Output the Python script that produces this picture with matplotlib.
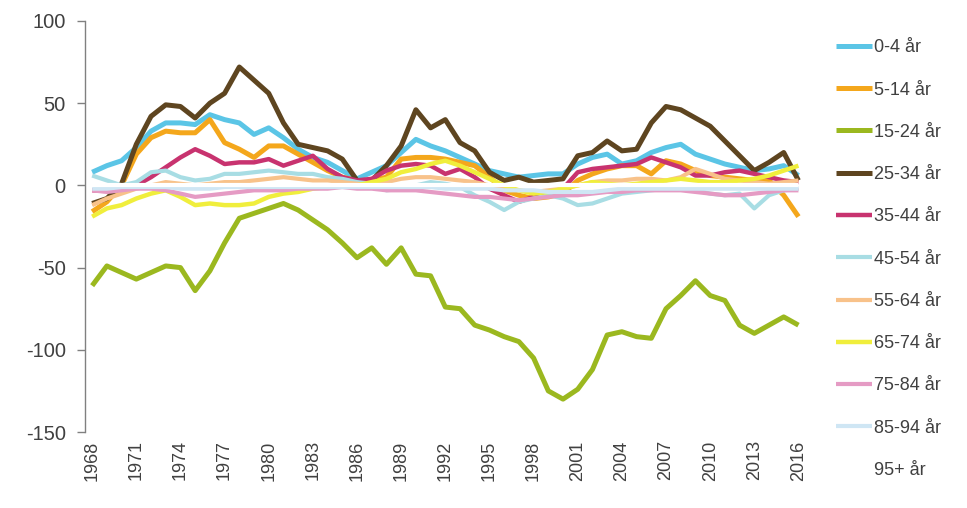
import matplotlib
matplotlib.use("Agg")
import matplotlib.pyplot as plt

plt.rcParams["font.family"] = ["Liberation Sans", "DejaVu Sans"]
plt.rcParams["axes.unicode_minus"] = False

years = list(range(1968, 2017))

# Nettoflytning per aldersgruppe
aar_0_4 = [8, 12, 15, 23, 33, 38, 38, 37, 43, 40, 38, 31, 35, 29, 22, 17, 14, 9, 4, 8,
           12, 20, 28, 24, 21, 17, 13, 9, 7, 5, 6, 7, 7, 13, 17, 19, 13, 15, 20, 23,
           25, 19, 16, 13, 11, 9, 10, 12, 6]
aar_5_14 = [-16, -10, 0, 19, 29, 33, 32, 32, 40, 26, 22, 17, 24, 24, 19, 14, 9, 5, 3, 3,
            5, 16, 17, 17, 16, 14, 12, 5, -3, -6, -8, -7, -5, 3, 7, 10, 12, 12, 7, 15,
            13, 9, 6, 5, 4, 3, 3, -6, -19]
aar_15_24 = [-61, -49, -53, -57, -53, -49, -50, -64, -52, -35, -20, -17, -14, -11, -15, -21,
             -27, -35, -44, -38, -48, -38, -54, -55, -74, -75, -85, -88, -92, -95, -105,
             -125, -130, -124, -112, -91, -89, -92, -93, -75, -67, -58, -67, -70, -85, -90,
             -85, -80, -85]
aar_25_34 = [-11, -8, 1, 25, 42, 49, 48, 41, 50, 56, 72, 64, 56, 38, 25, 23, 21, 16, 3, 3,
             12, 24, 46, 35, 40, 26, 21, 8, 3, 5, 2, 3, 4, 18, 20, 27, 21, 22, 38, 48,
             46, 41, 36, 27, 18, 9, 14, 20, 3]
aar_35_44 = [-3, -3, -2, 0, 5, 11, 17, 22, 18, 13, 14, 14, 16, 12, 15, 18, 10, 5, 3, 4,
             9, 12, 13, 12, 7, 10, 5, -2, -6, -10, -7, -5, -2, 8, 10, 11, 12, 13, 17, 14,
             11, 6, 6, 8, 9, 7, 5, 3, 2]
aar_45_54 = [6, 3, 0, 2, 8, 9, 5, 3, 4, 7, 7, 8, 9, 8, 7, 7, 5, 4, 2, 1,
             -3, -2, 0, 2, 1, -1, -6, -10, -15, -10, -8, -6, -8, -12, -11, -8, -5, -4, -3, -2,
             -2, -3, -5, -6, -5, -14, -6, -3, -2]
aar_55_64 = [-12, -8, -5, -2, 0, 2, 1, 0, 1, 2, 2, 3, 4, 5, 4, 3, 3, 2, 1, 0,
             2, 4, 5, 5, 4, 3, 2, 0, -2, -3, -4, -3, -2, 0, 2, 3, 3, 4, 4, 3,
             5, 10, 7, 4, 3, 2, 1, 2, 3]
aar_65_74 = [-19, -14, -12, -8, -5, -3, -7, -12, -11, -12, -12, -11, -7, -5, -4, -2, -1, 0, 0, 2,
             4, 8, 10, 13, 15, 12, 8, 4, 0, -3, -5, -4, -2, 0, 2, 1, 0, 1, 2, 3,
             4, 3, 2, 2, 3, 4, 6, 9, 12]
aar_75_84 = [-3, -4, -3, -2, -2, -3, -5, -7, -6, -5, -4, -3, -3, -3, -2, -2, -2, -1, -2, -2,
             -3, -3, -3, -4, -5, -6, -7, -7, -8, -9, -8, -7, -6, -6, -5, -4, -4, -3, -3, -3,
             -3, -4, -5, -6, -6, -5, -4, -3, -3]
aar_85_94 = [-2, -2, -1, -1, -1, -1, -2, -2, -2, -1, -1, -1, -1, -1, -1, -1, -1, -1, -1, -1,
             -1, -1, -1, -1, -2, -2, -2, -2, -3, -3, -3, -4, -4, -4, -4, -3, -2, -2, -2, -2,
             -2, -2, -2, -2, -2, -2, -2, -2, -2]
aar_95 = [0, 0, 0, 0, 0, 0, 0, 0, 0, 0, 0, 0, 0, 0, 0, 0, 0, 0, 0, 0,
          0, 0, 0, 0, 0, 0, 0, 0, 0, 0, 0, 0, 0, 0, 0, 0, 0, 0, 0, 0,
          0, 0, 0, 0, 0, 0, 0, 0, 0]

labels = ["0-4 år", "5-14 år", "15-24 år", "25-34 år", "35-44 år", "45-54 år",
          "55-64 år", "65-74 år", "75-84 år", "85-94 år", "95+ år"]

serier = [aar_0_4, aar_5_14, aar_15_24, aar_25_34, aar_35_44, aar_45_54,
          aar_55_64, aar_65_74, aar_75_84, aar_85_94, aar_95]
farver = ["#5BC5E6", "#F4A71C", "#9BB81F", "#5E4520", "#C8336F", "#A8DDE4",
          "#F8C28A", "#F0EE3C", "#E59BC4", "#CFE6F4", "#FFFFFF"]
bredder = [3.6, 3.6, 3.6, 3.6, 3.2, 3.0, 3.0, 3.2, 3.0, 3.0, 3.0]

fig = plt.figure(figsize=(9.67, 5.08), dpi=100)
ax = fig.add_axes([0.088, 0.1496, 0.745, 0.8091])

for vaerdier, farve, bredde, navn in zip(serier, farver, bredder, labels):
    ax.plot(years, vaerdier, color=farve, linewidth=bredde, label=navn,
            solid_joinstyle="round", solid_capstyle="butt")

ax.set_xlim(1967.52, 2016.48)
ax.set_ylim(-150, 100)
ax.set_yticks([-150, -100, -50, 0, 50, 100])
ax.set_xticks(years[::3])
ax.set_xticklabels([str(a) for a in years[::3]], rotation=90)

for side in ["top", "right", "bottom"]:
    ax.spines[side].set_visible(False)
ax.spines["left"].set_color("#808080")
ax.spines["left"].set_linewidth(1.0)
ax.tick_params(axis="y", colors="#808080", labelcolor="#404040", labelsize=14.5,
               length=6, width=1.0, pad=8)
ax.tick_params(axis="x", length=0, labelcolor="#404040", labelsize=13, pad=6)

fig.legend(loc="upper left", bbox_to_anchor=(0.857, 0.937), frameon=False,
           fontsize=13, handlelength=2.0, handletextpad=0.1, labelspacing=1.4,
           labelcolor="#404040", borderaxespad=0)

fig.savefig("out.png", dpi=100)
